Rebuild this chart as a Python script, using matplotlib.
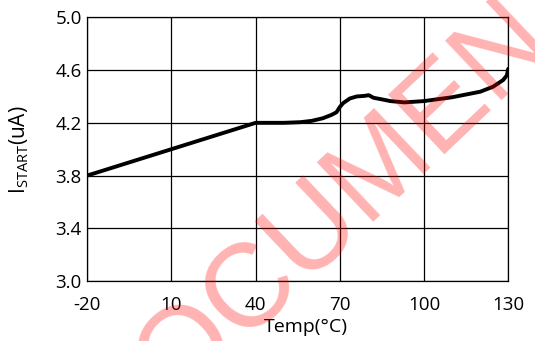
import matplotlib
matplotlib.use("Agg")
import matplotlib.pyplot as plt

temp = [-20, 40, 50, 56, 60, 64, 67, 68.8, 70, 71.2, 73.6, 76, 79, 80.3,
        82, 84.5, 88, 93, 100, 110, 120, 124.6, 128.2, 129.5, 130]
i_start = [3.80, 4.20, 4.20, 4.205, 4.215, 4.235, 4.26, 4.28, 4.32, 4.35, 4.385, 4.40, 4.405, 4.41,
           4.39, 4.38, 4.365, 4.355, 4.365, 4.394, 4.436, 4.474, 4.525, 4.56, 4.61]

x_ticks = [-20, 10, 40, 70, 100, 130]
y_ticks = [3.0, 3.4, 3.8, 4.2, 4.6, 5.0]

plt.rcParams['font.family'] = ['Open Sans', 'DejaVu Sans']
plt.rcParams['axes.unicode_minus'] = False

fig = plt.figure(figsize=(5.35, 3.41), dpi=100)
ax = fig.add_axes([0.163, 0.176, 0.787, 0.773])

ax.plot(temp, i_start, color='black', linewidth=2.8, solid_capstyle='round', zorder=3)

ax.set_xlim(-20, 130)
ax.set_ylim(3.0, 5.0)
ax.set_xticks(x_ticks)
ax.set_yticks(y_ticks)
ax.set_yticklabels([f"{v:.1f}" for v in y_ticks])
ax.grid(True, color='black', linewidth=0.9)
ax.tick_params(length=0, labelsize=13.5)
ax.tick_params(axis='x', pad=11)
ax.tick_params(axis='y', pad=4)
for s in ax.spines.values():
    s.set_linewidth(0.9)

ax.set_xlabel("Temp(°C)", fontsize=14)
ax.xaxis.set_label_coords(0.52, -0.14)
ax.set_ylabel(r"$\mathregular{I_{START}}$(uA)", fontsize=15)
ax.yaxis.set_label_coords(-0.134, 0.497)

# watermark, runs off the canvas like in the original
fig.text(0.2108, -0.3502, "DOCUMENT", fontsize=85, color='red', alpha=0.3,
         family='Liberation Sans', rotation=43.5, ha='left', va='baseline',
         rotation_mode='anchor', zorder=10)

fig.savefig("out.png", dpi=100)
